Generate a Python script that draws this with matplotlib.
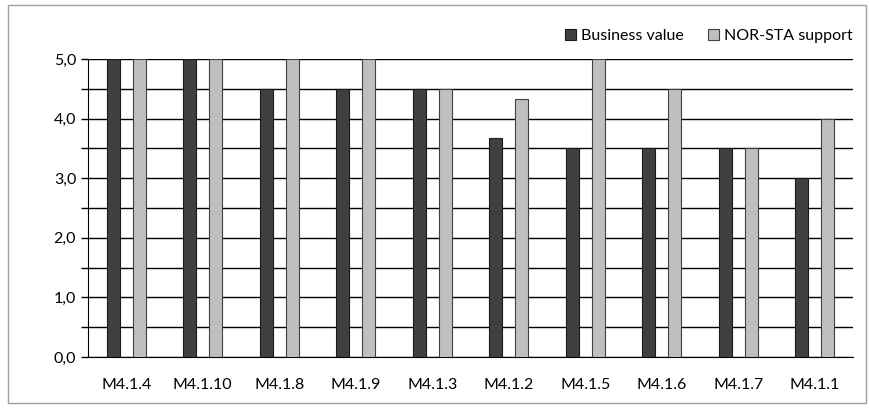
import matplotlib as mpl
mpl.use('Agg')
import matplotlib.pyplot as plt
import matplotlib.ticker as ticker
import numpy as np

plt.rcParams['font.family'] = ['Lato', 'DejaVu Sans']

categories = ['M4.1.4', 'M4.1.10', 'M4.1.8', 'M4.1.9', 'M4.1.3',
              'M4.1.2', 'M4.1.5', 'M4.1.6', 'M4.1.7', 'M4.1.1']
business_value = [5.0, 5.0, 4.5, 4.5, 4.5, 3.67, 3.5, 3.5, 3.5, 3.0]
norsta_support = [5.0, 5.0, 5.0, 5.0, 4.5, 4.33, 5.0, 4.5, 3.5, 4.0]

fig = plt.figure(figsize=(8.69, 4.08), dpi=100)
ax = fig.add_axes([88/869, 1-357/408, 765/869, 298/408])

# figure border
fig.patches.append(plt.Rectangle((8/869, 5/408), 858/869, 398/408, transform=fig.transFigure,
                                 fill=False, edgecolor='#a0a0a0', linewidth=1))

x = np.arange(len(categories))
w = 0.17
ax.bar(x - 0.17, business_value, w, color='#404040', edgecolor='#1a1a1a', linewidth=0.8,
       label='Business value', zorder=3)
ax.bar(x + 0.17, norsta_support, w, color='#bfbfbf', edgecolor='#404040', linewidth=0.8,
       label='NOR-STA support', zorder=3)

ax.set_xlim(-0.5, len(categories) - 0.5)
ax.set_ylim(0, 5)
ax.set_xticks(x)
ax.set_xticklabels(categories, fontsize=11.5)
ax.yaxis.set_major_locator(ticker.MultipleLocator(1.0))
ax.yaxis.set_minor_locator(ticker.MultipleLocator(0.5))
ax.yaxis.set_major_formatter(ticker.FuncFormatter(lambda v, p: ('%.1f' % v).replace('.', ',')))
ax.tick_params(axis='y', which='both', length=5, width=1, labelsize=11.5)
ax.tick_params(axis='x', length=0, pad=15)
ax.grid(axis='y', which='both', color='black', linewidth=1, zorder=0)

for s in ['top', 'right']:
    ax.spines[s].set_visible(False)
ax.spines['left'].set_color('black')
ax.spines['bottom'].set_color('black')

ax.legend(loc='lower right', bbox_to_anchor=(1.02, 1.0), ncol=2, frameon=False, fontsize=11.5,
          handlelength=0.7, handleheight=0.7, handletextpad=0.3, columnspacing=1.5,
          borderaxespad=0.6)

plt.savefig('out.png', dpi=100)
